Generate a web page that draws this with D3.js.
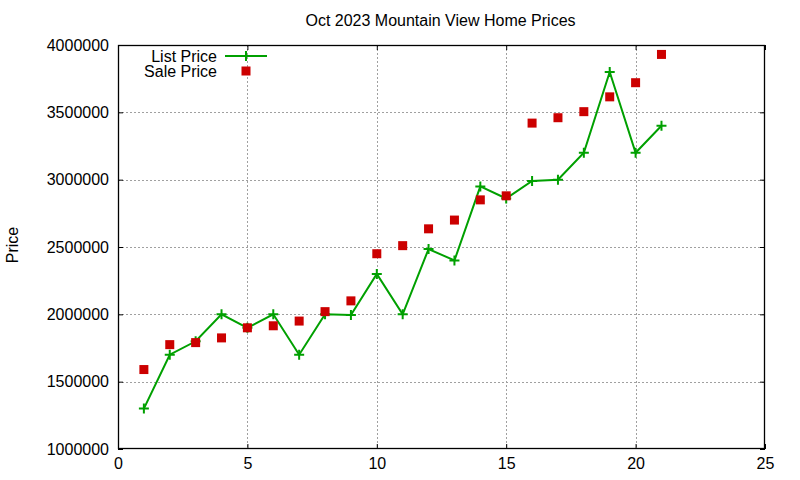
<!DOCTYPE html>
<html>
<head>
<meta charset="utf-8">
<script src="https://cdn.jsdelivr.net/npm/d3@7"></script>
<style>
  html, body { margin: 0; padding: 0; background: #fff; }
  svg { display: block; font-family: "Liberation Sans", Arial, sans-serif; }
</style>
</head>
<body>
<svg id="chart" width="800" height="480"></svg>
<script>
const chartTitle = "Oct 2023 Mountain View Home Prices";
const yLabel = "Price";
const days = [1,2,3,4,5,6,7,8,9,10,11,12,13,14,15,16,17,18,19,20,21];
const listPrice = [1300000,1700000,1800000,2000000,1900000,2000000,1700000,2000000,1995000,2300000,2000000,2485000,2400000,2950000,2860000,2990000,3000000,3200000,3800000,3200000,3400000];
const salePrice = [1590000,1775000,1790000,1825000,1900000,1915000,1950000,2020000,2100000,2450000,2510000,2635000,2700000,2850000,2880000,3420000,3460000,3505000,3615000,3720000,3930000];
const xTicks = [0,5,10,15,20,25];
const yTicks = [1000000,1500000,2000000,2500000,3000000,3500000,4000000];
const seriesNames = ["List Price", "Sale Price"];

const svg = d3.select("#chart");
const L = 118, R = 765, T = 45, B = 449;
const x = d3.scaleLinear().domain([0,25]).range([L,R]);
const y = d3.scaleLinear().domain([1000000,4000000]).range([B,T]);
const green = "#00a000", red = "#cc0000";

// grid
const grid = svg.append("g").attr("stroke","#a0a0a0").attr("stroke-width",1).attr("stroke-dasharray","2,2").attr("shape-rendering","crispEdges");
xTicks.filter(d => d > 0 && d < 25).forEach(d => {
  grid.append("line").attr("x1",Math.round(x(d))+0.5).attr("x2",Math.round(x(d))+0.5).attr("y1",T).attr("y2",B);
});
yTicks.filter(d => d > 1000000 && d < 4000000).forEach(d => {
  grid.append("line").attr("y1",Math.round(y(d))+0.5).attr("y2",Math.round(y(d))+0.5).attr("x1",L).attr("x2",R);
});

// axes with inward ticks on all sides
const fmt = d => String(d);
const axB = svg.append("g").attr("transform",`translate(0,${B})`).call(d3.axisBottom(x).tickValues(xTicks).tickFormat(fmt).tickSizeInner(-5).tickSizeOuter(0).tickPadding(9));
const axT = svg.append("g").attr("transform",`translate(0,${T})`).call(d3.axisTop(x).tickValues(xTicks).tickFormat("").tickSizeInner(-5).tickSizeOuter(0));
const axL = svg.append("g").attr("transform",`translate(${L},0)`).call(d3.axisLeft(y).tickValues(yTicks).tickFormat(fmt).tickSizeInner(-5).tickSizeOuter(0).tickPadding(9));
const axR = svg.append("g").attr("transform",`translate(${R},0)`).call(d3.axisRight(y).tickValues(yTicks).tickFormat("").tickSizeInner(-5).tickSizeOuter(0));
[axB,axT,axL,axR].forEach(a => {
  a.select(".domain").remove();
  a.selectAll("line").attr("stroke","#000").attr("stroke-width",1);
  a.selectAll("text").attr("font-size",16).attr("fill","#000").attr("font-family","Liberation Sans, Arial, sans-serif");
});
svg.append("rect").attr("x",L+0.5).attr("y",T+0.5).attr("width",R-L-1).attr("height",B-T-1)
  .attr("fill","none").attr("stroke","#000").attr("stroke-width",1.3);

// title and label
svg.append("text").attr("x",440.5).attr("y",26).attr("text-anchor","middle").attr("font-size",16).text(chartTitle);
svg.append("text").attr("transform","translate(18,245) rotate(-90)").attr("text-anchor","middle").attr("font-size",16).text(yLabel);

// list price line
const listData = days.map((d,i) => ({d, v: listPrice[i]}));
svg.append("path").datum(listData)
  .attr("fill","none").attr("stroke",green).attr("stroke-width",2)
  .attr("d", d3.line().x(p => x(p.d)).y(p => y(p.v)));
const plus = (g, cx, cy) => {
  g.append("path").attr("d",`M${cx-5},${cy}H${cx+5}M${cx},${cy-5}V${cy+5}`).attr("stroke",green).attr("stroke-width",2).attr("fill","none");
};
const pg = svg.append("g");
listData.forEach(p => plus(pg, x(p.d), y(p.v)));

// sale price squares
svg.append("g").selectAll("rect").data(days.map((d,i) => ({d, v: salePrice[i]}))).join("rect")
  .attr("x", p => x(p.d)-4.5).attr("y", p => y(p.v)-4.5).attr("width",9).attr("height",9).attr("fill",red);

// legend
svg.append("text").attr("x",217).attr("y",62).attr("text-anchor","end").attr("font-size",16).text(seriesNames[0]);
svg.append("line").attr("x1",225).attr("x2",267).attr("y1",56).attr("y2",56).attr("stroke",green).attr("stroke-width",2);
plus(svg, 246, 56);
svg.append("text").attr("x",217).attr("y",77).attr("text-anchor","end").attr("font-size",16).text(seriesNames[1]);
svg.append("rect").attr("x",241.5).attr("y",66.5).attr("width",9).attr("height",9).attr("fill",red);
</script>
</body>
</html>
